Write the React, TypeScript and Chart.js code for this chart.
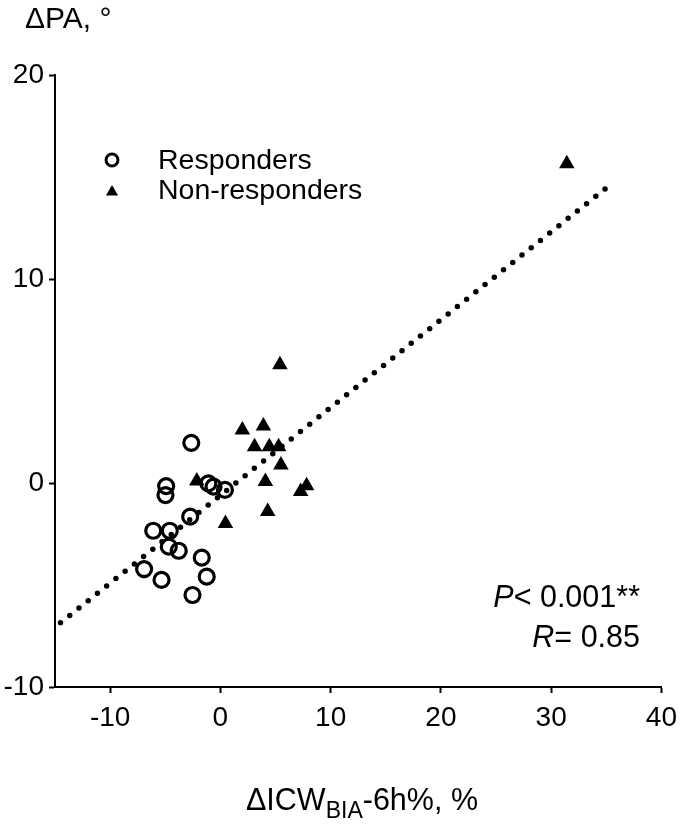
import React, { useEffect, useRef } from "react";
import { Chart, registerables } from "chart.js";

Chart.register(...registerables);

const responderX = [-2.64, -4.92, -4.98, -1.09, -0.62, 0.41, -2.74, -6.09, -4.59, -4.68, -3.78, -1.69, -6.92, -5.34, -1.24, -2.53];
const responderY = [1.97, -0.15, -0.59, -0.02, -0.18, -0.34, -1.65, -2.34, -2.34, -3.12, -3.32, -3.66, -4.22, -4.75, -4.59, -5.49];

const nonResponderX = [5.4, 1.99, 3.9, 3.1, 4.44, 5.28, 5.49, 4.08, 7.28, 7.82, 4.29, 0.46, -2.14, 31.42];
const nonResponderY = [5.8, 2.6, 2.8, 1.78, 1.78, 1.78, 0.88, 0.07, -0.42, -0.13, -1.4, -1.98, 0.1, 15.65];

const fitX = [-14.5, 35.2];
const fitY = [-6.85, 14.55];

const xTicks = [-10, 0, 10, 20, 30, 40];
const yTicks = [-10, 0, 10, 20];

const seriesLabels = ["Responders", "Non-responders"];
const pText = ["P", "< 0.001**"];
const rText = ["R", "= 0.85"];
const yTitle = "ΔPA, °";
const xTitleParts = ["ΔICW", "BIA", "-6h%, %"];

const FONT = "'Liberation Sans', Arial, Helvetica, sans-serif";

export default function App() {
  const ref = useRef<HTMLCanvasElement | null>(null);

  useEffect(() => {
    const canvas = ref.current;
    if (!canvas) return;

    const overlay = {
      id: "overlay",
      afterDraw(chart: any) {
        const ctx = chart.ctx as CanvasRenderingContext2D;
        ctx.save();
        ctx.fillStyle = "#000";
        ctx.strokeStyle = "#000";
        ctx.textBaseline = "alphabetic";

        // y title
        ctx.font = `30px ${FONT}`;
        ctx.textAlign = "left";
        ctx.fillText(yTitle, 25, 28);

        // x title with subscript
        const main = `30.5px ${FONT}`;
        const sub = `23px ${FONT}`;
        ctx.font = main;
        const w1 = ctx.measureText(xTitleParts[0]).width;
        const w3 = ctx.measureText(xTitleParts[2]).width;
        ctx.font = sub;
        const w2 = ctx.measureText(xTitleParts[1]).width;
        const total = w1 + w2 + w3;
        let x = 362 - total / 2;
        const base = 810;
        ctx.font = main;
        ctx.fillText(xTitleParts[0], x, base);
        x += w1;
        ctx.font = sub;
        ctx.fillText(xTitleParts[1], x, base + 8);
        x += w2;
        ctx.font = main;
        ctx.fillText(xTitleParts[2], x, base);

        // legend
        ctx.lineWidth = 3;
        ctx.beginPath();
        ctx.arc(112, 160, 6, 0, Math.PI * 2);
        ctx.stroke();
        ctx.beginPath();
        const tr = 7;
        const tcx = 112, tcy = 192;
        ctx.moveTo(tcx, tcy - tr);
        ctx.lineTo(tcx + tr * Math.sin(Math.PI / 3), tcy + tr / 2);
        ctx.lineTo(tcx - tr * Math.sin(Math.PI / 3), tcy + tr / 2);
        ctx.closePath();
        ctx.fill();
        ctx.font = `28.5px ${FONT}`;
        ctx.textBaseline = "middle";
        ctx.fillText(seriesLabels[0], 158, 161);
        ctx.fillText(seriesLabels[1], 158, 191);

        // stats
        ctx.textBaseline = "alphabetic";
        const right = 640;
        const drawStat = (parts: string[], baseY: number) => {
          ctx.font = `30.5px ${FONT}`;
          const wr = ctx.measureText(parts[1]).width;
          ctx.font = `italic 30.5px ${FONT}`;
          const wi = ctx.measureText(parts[0]).width;
          ctx.textAlign = "left";
          ctx.fillText(parts[0], right - wr - wi, baseY);
          ctx.font = `30.5px ${FONT}`;
          ctx.fillText(parts[1], right - wr, baseY);
        };
        drawStat(pText, 607);
        drawStat(rText, 647);
        ctx.restore();
      },
    };

    const chart = new Chart(canvas, {
      type: "scatter",
      data: {
        datasets: [
          {
            label: seriesLabels[0],
            data: responderX.map((v, i) => ({ x: v, y: responderY[i] })),
            pointStyle: "circle",
            pointRadius: 7.5,
            pointBorderWidth: 3.2,
            borderColor: "#000",
            backgroundColor: "rgba(0,0,0,0)",
          },
          {
            label: seriesLabels[1],
            data: nonResponderX.map((v, i) => ({ x: v, y: nonResponderY[i] })),
            pointStyle: "triangle",
            pointRadius: 9,
            pointBorderWidth: 0,
            borderColor: "#000",
            backgroundColor: "#000",
          },
          {
            type: "line",
            label: "fit",
            data: fitX.map((v, i) => ({ x: v, y: fitY[i] })),
            showLine: true,
            borderColor: "#000",
            borderWidth: 5.5,
            borderDash: [0, 11.8],
            borderCapStyle: "round",
            pointRadius: 0,
            fill: false,
          } as any,
        ],
      },
      options: {
        animation: false,
        responsive: false,
        maintainAspectRatio: false,
        layout: { padding: { left: 0, right: 17, top: 75, bottom: 0 } },
        plugins: { legend: { display: false }, tooltip: { enabled: false } },
        scales: {
          x: {
            type: "linear",
            min: -15,
            max: 40,
            afterBuildTicks: (s: any) => {
              s.ticks = xTicks.map((v) => ({ value: v }));
            },
            afterFit: (s: any) => {
              s.height = 138;
            },
            grid: {
              display: true,
              drawOnChartArea: false,
              drawTicks: true,
              tickLength: 6,
              tickWidth: 2,
              tickColor: "#000",
              color: "#000",
            },
            border: { display: true, color: "#000", width: 2 },
            ticks: {
              color: "#000",
              font: { family: FONT, size: 28 },
              padding: 8,
              maxRotation: 0,
              autoSkip: false,
            },
          },
          y: {
            type: "linear",
            min: -10,
            max: 20,
            afterBuildTicks: (s: any) => {
              s.ticks = yTicks.map((v) => ({ value: v }));
            },
            afterFit: (s: any) => {
              s.width = 55;
            },
            grid: {
              display: true,
              drawOnChartArea: false,
              drawTicks: true,
              tickLength: 6,
              tickWidth: 2,
              tickColor: "#000",
              color: "#000",
            },
            border: { display: true, color: "#000", width: 2 },
            ticks: {
              color: "#000",
              font: { family: FONT, size: 28 },
              padding: 5,
              autoSkip: false,
            },
          },
        },
      },
      plugins: [overlay],
    });

    return () => chart.destroy();
  }, []);

  return (
    <div style={{ position: "absolute", left: 0, top: 0, width: 685, height: 825, background: "#fff" }}>
      <canvas ref={ref} width={685} height={825} style={{ display: "block", width: 685, height: 825 }} />
    </div>
  );
}
